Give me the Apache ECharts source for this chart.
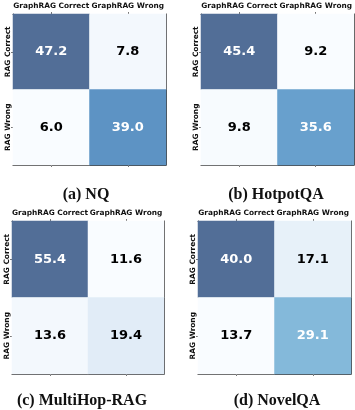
<!DOCTYPE html>
<html>
<head>
<meta charset="utf-8">
<script src="https://cdn.jsdelivr.net/npm/echarts@6/dist/echarts.min.js"></script>
<style>html,body{margin:0;padding:0;background:#fff;}#c{width:355px;height:410px;}</style>
</head>
<body>
<div id="c"></div>
<script>
const xCategories = ['GraphRAG Correct', 'GraphRAG Wrong'];
const yCategories = ['RAG Correct', 'RAG Wrong'];
const captions = ['(a) NQ', '(b) HotpotQA', '(c) MultiHop-RAG', '(d) NovelQA'];
// rows: [RAG Correct row], [RAG Wrong row]; each row: [GraphRAG Correct, GraphRAG Wrong]
const nqValues = [[47.2, 7.8], [6.0, 39.0]];
const hotpotValues = [[45.4, 9.2], [9.8, 35.6]];
const multihopValues = [[55.4, 11.6], [13.6, 19.4]];
const novelValues = [[40.0, 17.1], [13.7, 29.1]];
const panels = [nqValues, hotpotValues, multihopValues, novelValues];

// Blues colormap blended with white at alpha 0.7
const blues = ['#f9fcff', '#e8f1f9', '#d7e6f4', '#bbdaea', '#97c6e2', '#7bb3d7', '#649ccb', '#5285ba', '#526e97'];

const layout = [
  {left: 13, top: 14, width: 153, height: 151, cx: 86, cy: 194.5},
  {left: 201, top: 14, width: 153, height: 151, cx: 276, cy: 194.5},
  {left: 12, top: 221, width: 152, height: 153, cx: 82, cy: 400.5},
  {left: 198, top: 221, width: 153, height: 153, cx: 277, cy: 400.5}
];

const grid = [], xAxis = [], yAxis = [], series = [], visualMap = [], graphic = [];
const font = 'DejaVu Sans';
const fs = 7.4;
panels.forEach((vals, i) => {
  const L = layout[i];
  grid.push({left: L.left, top: L.top, width: L.width, height: L.height, containLabel: false});
  const flat = vals.flat();
  const mn = Math.min(...flat), mx = Math.max(...flat);
  xAxis.push({type: 'category', gridIndex: i, position: 'top', data: xCategories,
    axisLine: {show: true, lineStyle: {color: '#444', width: 1}},
    axisTick: {show: true, alignWithLabel: true, interval: 0, length: 2, lineStyle: {color: '#777'}},
    axisLabel: {interval: 0, hideOverlap: false, fontFamily: font, fontWeight: 'bold', fontSize: fs, color: '#111', margin: 4},
    splitLine: {show: false}});
  xAxis.push({type: 'category', gridIndex: i, position: 'bottom', data: xCategories,
    axisLine: {show: true, lineStyle: {color: '#444', width: 1}},
    axisTick: {show: true, alignWithLabel: true, interval: 0, length: 2, lineStyle: {color: '#777'}},
    axisLabel: {show: false}, splitLine: {show: false}});
  yAxis.push({type: 'category', gridIndex: i, position: 'left', data: yCategories, inverse: true,
    axisLine: {show: true, lineStyle: {color: '#444', width: 1}},
    axisTick: {show: true, alignWithLabel: true, interval: 0, length: 2, lineStyle: {color: '#777'}},
    axisLabel: {interval: 0, rotate: 90, fontFamily: font, fontWeight: 'bold', fontSize: fs, color: '#111', margin: 1},
    splitLine: {show: false}});
  yAxis.push({type: 'category', gridIndex: i, position: 'right', data: yCategories, inverse: true,
    axisLine: {show: true, lineStyle: {color: '#444', width: 1}}, axisTick: {show: false},
    axisLabel: {show: false}, splitLine: {show: false}});
  const data = [];
  vals.forEach((row, r) => row.forEach((v, c) => {
    const t = (v - mn) / (mx - mn);
    data.push({value: [c, r, v], label: {color: t > 0.5 ? '#ffffff' : '#000000'}});
  }));
  series.push({type: 'heatmap', xAxisIndex: 2 * i, yAxisIndex: 2 * i, data: data,
    label: {show: true, fontFamily: font, fontWeight: 'bold', fontSize: 13,
      formatter: p => p.value[2].toFixed(1)},
    itemStyle: {borderWidth: 0}, emphasis: {disabled: true}, z: 1});
  visualMap.push({show: false, seriesIndex: i, min: mn, max: mx, dimension: 2, inRange: {color: blues}});
  graphic.push({type: 'text', x: L.cx, y: L.cy,
    style: {text: captions[i], textAlign: 'center', textVerticalAlign: 'middle',
      font: 'bold 16px "Liberation Serif"', fill: '#111'}});
});

const chart = echarts.init(document.getElementById('c'), null, {renderer: 'canvas'});
chart.setOption({animation: false, backgroundColor: '#fff', grid, xAxis, yAxis, series, visualMap, graphic});
</script>
</body>
</html>
